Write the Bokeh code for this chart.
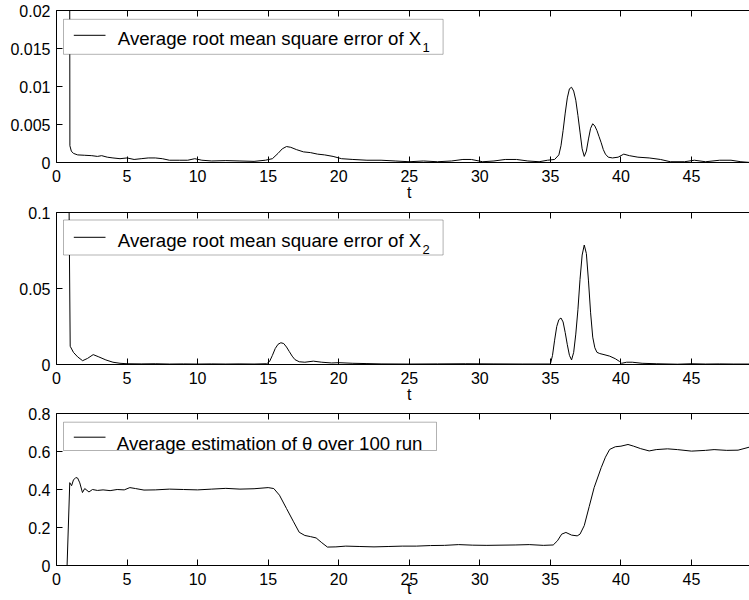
from bokeh.plotting import figure
from bokeh.layouts import column
from bokeh.models import Range1d, FixedTicker, LinearAxis, BoxAnnotation, Label, PrintfTickFormatter
from bokeh.embed import file_html
from bokeh.resources import INLINE

# ---------------- data ----------------
t_x1 = [0.92, 0.95, 1.05, 1.2, 1.5, 2.0, 2.5, 2.9, 3.2, 3.6, 4.0, 4.5, 5.0, 5.5, 6.0, 6.5, 7.0, 7.5,
        8.0, 8.7, 9.3, 9.8, 10.3, 11.0, 12.0, 13.0, 14.0, 14.8, 15.3, 15.7, 16.0, 16.3, 16.6, 17.0,
        17.5, 18.0, 18.5, 19.0, 19.6, 20.2, 21.0, 22.0, 23.0, 24.0, 25.0, 26.0, 27.0, 28.0, 28.8,
        29.4, 30.2, 31.0, 31.8, 32.6, 33.4, 34.2, 34.8, 35.3, 35.6, 35.75, 35.9, 36.05, 36.2, 36.35,
        36.5, 36.65, 36.8, 36.95, 37.1, 37.25, 37.4, 37.55, 37.7, 37.85, 38.0, 38.15, 38.3, 38.45,
        38.6, 38.75, 38.9, 39.1, 39.4, 39.8, 40.2, 40.6, 41.2, 42.0, 42.8, 43.5, 44.5, 45.2, 46.0,
        47.0, 47.8, 48.5, 49.2]
rmse_x1 = [0.05, 0.0022, 0.0015, 0.0012, 0.001, 0.00095, 0.0009, 0.0008, 0.0009, 0.0007, 0.0006,
           0.0005, 0.0006, 0.0004, 0.0005, 0.0006, 0.0006, 0.0005, 0.0003, 0.0003, 0.0003, 0.0005,
           0.0003, 0.0002, 0.00025, 0.0002, 0.00015, 0.0003, 0.0005, 0.0012, 0.0018, 0.0021, 0.0020,
           0.0017, 0.0014, 0.0013, 0.0011, 0.001, 0.0008, 0.0005, 0.0004, 0.0003, 0.0003, 0.0002,
           0.0001, 0.0002, 0.0001, 0.0002, 0.0004, 0.0004, 0.0001, 0.0002, 0.0004, 0.0004, 0.0002,
           0.0001, 0.0003, 0.0004, 0.001, 0.0022, 0.0042, 0.0065, 0.0085, 0.0097, 0.0099, 0.0094,
           0.0082, 0.0062, 0.0040, 0.0018, 0.0008, 0.0015, 0.0031, 0.0045, 0.0051, 0.0048, 0.0042,
           0.0034, 0.0026, 0.0017, 0.0011, 0.0007, 0.0006, 0.0007, 0.0011, 0.0009, 0.0007, 0.0006,
           0.0004, 0.0001, 0.0001, 0.0003, 0.0001, 0.0003, 0.0003, 0.0001, 0.0]

t_x2 = [0.85, 0.97, 1.2, 1.5, 1.85, 2.2, 2.6, 3.0, 3.5, 4.0, 4.5, 5.0, 6.0, 7.0, 8.0, 9.0, 10.0,
        11.0, 12.0, 13.0, 14.0, 14.9, 15.1, 15.3, 15.5, 15.7, 15.9, 16.1, 16.3, 16.5, 16.7, 16.9,
        17.2, 17.6, 18.2, 18.8, 19.5, 20.0, 21.0, 22.0, 23.0, 25.0, 27.0, 29.0, 31.0, 33.0, 35.0,
        35.15, 35.3, 35.45, 35.6, 35.75, 35.9, 36.05, 36.2, 36.35, 36.5, 36.65, 36.8, 36.95, 37.1,
        37.25, 37.4, 37.55, 37.7, 37.85, 38.0, 38.15, 38.3, 38.5, 38.8, 39.2, 39.6, 39.9, 40.05,
        40.4, 40.8, 41.5, 42.5, 44.0, 45.0, 46.0, 47.0, 48.0, 49.2]
rmse_x2 = [0.15, 0.012, 0.008, 0.005, 0.0025, 0.004, 0.0065, 0.005, 0.003, 0.0015, 0.0008, 0.0005,
           0.0004, 0.0005, 0.0003, 0.0004, 0.0003, 0.0004, 0.0003, 0.0004, 0.0003, 0.0005, 0.002,
           0.006, 0.0105, 0.0133, 0.0143, 0.0138, 0.0115, 0.0085, 0.0055, 0.0032, 0.0018, 0.0015,
           0.0022, 0.0015, 0.001, 0.0012, 0.0008, 0.0006, 0.0004, 0.0003, 0.0004, 0.0005, 0.0004,
           0.0003, 0.0003, 0.006, 0.016, 0.025, 0.0295, 0.0306, 0.028, 0.021, 0.013, 0.006, 0.003,
           0.008, 0.02, 0.036, 0.056, 0.072, 0.0786, 0.073, 0.055, 0.034, 0.018, 0.011, 0.008,
           0.0072, 0.0065, 0.0055, 0.0038, 0.002, 0.0008, 0.0015, 0.0015, 0.0008, 0.0005, 0.0002,
           0.0005, 0.0003, 0.0004, 0.0003, 0.0003]

t_theta = [0.75, 0.94, 1.07, 1.2, 1.37, 1.5, 1.65, 1.84, 2.0, 2.3, 2.55, 2.9, 3.3, 3.8, 4.3, 4.8,
           5.2, 5.6, 6.2, 7.0, 8.0, 9.0, 10.0, 11.0, 12.0, 13.0, 14.0, 15.0, 15.4, 15.8, 16.3, 16.8,
           17.2, 17.6, 18.0, 18.4, 18.8, 19.2, 19.8, 20.5, 21.5, 22.5, 23.5, 24.5, 25.5, 26.5, 27.5,
           28.5, 29.5, 30.5, 31.5, 32.5, 33.5, 34.5, 35.2, 35.5, 35.8, 36.1, 36.5, 36.9, 37.1, 37.4,
           37.75, 38.1, 38.6, 38.9, 39.2, 39.6, 40.0, 40.5, 40.9, 41.4, 42.0, 42.5, 43.3, 44.0, 45.0,
           46.0, 46.6, 47.5, 48.3, 49.2]
theta_est = [0.0, 0.436, 0.42, 0.45, 0.463, 0.46, 0.435, 0.384, 0.405, 0.387, 0.40, 0.395, 0.398,
             0.394, 0.40, 0.398, 0.41, 0.405, 0.397, 0.398, 0.402, 0.40, 0.398, 0.402, 0.406, 0.402,
             0.404, 0.41, 0.405, 0.37, 0.30, 0.23, 0.175, 0.158, 0.152, 0.145, 0.12, 0.097, 0.098,
             0.102, 0.10, 0.098, 0.10, 0.102, 0.102, 0.105, 0.106, 0.11, 0.107, 0.106, 0.107, 0.108,
             0.11, 0.106, 0.108, 0.13, 0.165, 0.174, 0.16, 0.156, 0.165, 0.21, 0.31, 0.41, 0.515,
             0.57, 0.611, 0.625, 0.628, 0.637, 0.628, 0.615, 0.603, 0.61, 0.614, 0.61, 0.602, 0.606,
             0.61, 0.606, 0.607, 0.625]

x_ticks = [0, 5, 10, 15, 20, 25, 30, 35, 40, 45, 50]
x_tick_labels = ["0", "5", "10", "15", "20", "25", "30", "35", "40", "45", "50"]
y1_ticks = [0, 0.005, 0.01, 0.015, 0.02]
y1_tick_labels = ["0", "0.005", "0.01", "0.015", "0.02"]
y2_ticks = [0, 0.05, 0.1]
y2_tick_labels = ["0", "0.05", "0.1"]
y3_ticks = [0, 0.2, 0.4, 0.6, 0.8]
y3_tick_labels = ["0", "0.2", "0.4", "0.6", "0.8"]
x_label = "t"
x_label_at = 25
legend1 = "Average root mean square error of X"
legend1_sub = "1"
legend2 = "Average root mean square error of X"
legend2_sub = "2"
legend3 = "Average estimation of \u03b8 over 100 run"

# ---------------- layout constants ----------------
FONT = "Liberation Sans"
LEFT = 56
FRAME_W = 693
FRAME_H = 152
X_END = 49.11
XS = FRAME_W / X_END


def style_axis(ax, ticks, labels, show_labels=True, standoff=5):
    ax.ticker = FixedTicker(ticks=ticks)
    ax.formatter = PrintfTickFormatter(format="%g")
    ax.major_label_overrides = {k: v for k, v in zip(ticks, labels)}
    ax.axis_line_color = "black"
    ax.axis_line_width = 1
    ax.major_tick_line_color = "black"
    ax.major_tick_in = 6
    ax.major_tick_out = 0
    ax.minor_tick_line_color = None
    ax.major_label_text_font = FONT
    ax.major_label_text_font_size = "16px"
    ax.major_label_standoff = standoff
    if show_labels:
        ax.major_label_text_color = "black"
    else:
        ax.major_label_text_color = None
        ax.major_label_standoff = 0


def panel(t, y, ymax, yticks, ylabels, border_top, border_bottom, leg, xstandoff, tstandoff):
    p = figure(width=LEFT + FRAME_W, height=border_top + FRAME_H + border_bottom,
               x_range=Range1d(0, X_END), y_range=Range1d(0, ymax),
               output_backend="svg", toolbar_location=None,
               min_border_left=LEFT, min_border_right=0, min_border_top=border_top,
               min_border_bottom=border_bottom, background_fill_color="white",
               border_fill_color="white")
    p.outline_line_color = None
    p.xgrid.visible = False
    p.ygrid.visible = False
    style_axis(p.xaxis[0], x_ticks, x_tick_labels, standoff=xstandoff)
    style_axis(p.yaxis[0], yticks, ylabels, standoff=6)
    top = LinearAxis()
    style_axis(top, x_ticks, x_tick_labels, show_labels=False)
    p.add_layout(top, "above")

    # axis title "t", placed under the tick 25 like the reference
    tax = LinearAxis(ticker=FixedTicker(ticks=[x_label_at]),
                     major_label_overrides={x_label_at: x_label},
                     axis_line_color=None, major_tick_line_color=None,
                     major_tick_in=0, major_tick_out=0, minor_tick_line_color=None,
                     major_label_text_font=FONT, major_label_text_font_size="16px",
                     major_label_text_color="black", major_label_standoff=tstandoff)
    p.add_layout(tax, "below")

    p.line(t, y, line_color="black", line_width=1)

    def dx(px):
        return px / XS

    def ytop(px):
        return ymax - px * ymax / FRAME_H

    # legend box
    box = BoxAnnotation(left=dx(leg["left"]), right=dx(leg["right"]),
                        top=ytop(leg["top"]), bottom=ytop(leg["bottom"]),
                        fill_color="white", fill_alpha=1.0,
                        line_color="black", line_width=1)
    p.add_layout(box)
    p.segment(x0=[dx(17.3)], y0=[ytop(leg["line_y"])], x1=[dx(49)], y1=[ytop(leg["line_y"])],
              line_color="black", line_width=1, level="overlay")
    p.add_layout(Label(x=dx(leg["text_x"]), y=ytop(leg["base"]), text=leg["text"],
                       text_font=FONT, text_font_size="18.67px", text_color="black",
                       text_align="left", text_baseline="alphabetic"))
    if leg.get("sub"):
        p.add_layout(Label(x=dx(leg["sub_x"]), y=ytop(leg["sub_base"]), text=leg["sub"],
                           text_font=FONT, text_font_size="13px", text_color="black",
                           text_align="left", text_baseline="alphabetic"))
    return p


p1 = panel(t_x1, rmse_x1, 0.02, y1_ticks, y1_tick_labels, 10, 42,
           dict(left=7, right=386.6, top=8.8, bottom=43.8, line_y=24.8, text_x=61.3, base=28.1,
                text=legend1, sub=legend1_sub, sub_x=366.0, sub_base=36.8), 7, -1)
p2 = panel(t_x2, rmse_x2, 0.1, y2_ticks, y2_tick_labels, 8, 41,
           dict(left=7, right=386.6, top=7.5, bottom=42.5, line_y=24.8, text_x=61.3, base=27.7,
                text=legend2, sub=legend2_sub, sub_x=366.0, sub_base=37.3), 7, -1)
p3 = panel(t_theta, theta_est, 0.8, y3_ticks, y3_tick_labels, 8, 35,
           dict(left=7, right=380, top=8.7, bottom=37, line_y=23.7, text_x=60.3, base=30.3,
                text=legend3), 7, -8)

layout = column(p1, p2, p3, spacing=0)
open("out.html", "w").write(file_html(layout, INLINE))
